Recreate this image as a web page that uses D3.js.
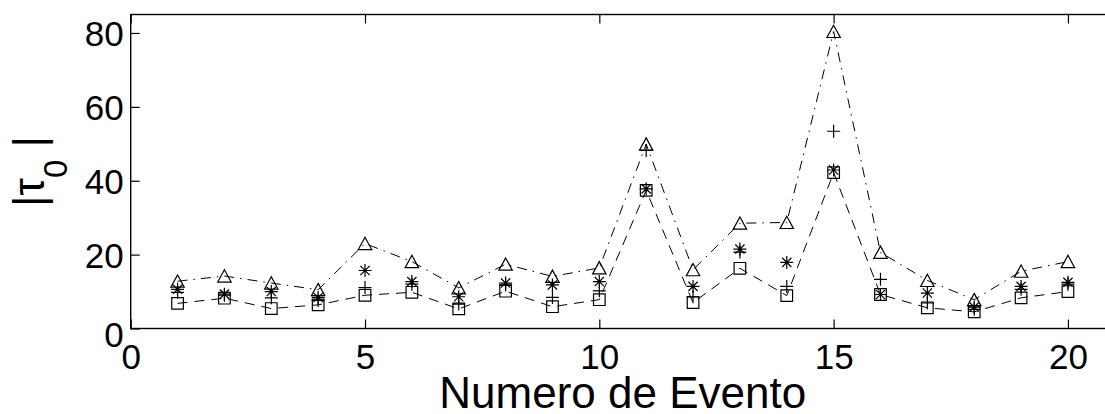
<!DOCTYPE html>
<html>
<head>
<meta charset="utf-8">
<script src="https://cdn.jsdelivr.net/npm/d3@7"></script>
<style>
  html, body { margin: 0; padding: 0; background: #fff; }
  svg { display: block; font-family: "Liberation Sans", Arial, Helvetica, sans-serif; }
</style>
</head>
<body>
<svg id="chart" width="1105" height="414"></svg>
<script>
// Event numbers
const eventos = d3.range(1, 21);

// |tau_0| estimates for each event, one array per method
const triangulos = [12.8, 14.2, 12.3, 10.5, 23.0, 18.1, 11.0, 17.4, 14.1, 16.4,
                    49.9, 15.9, 28.5, 28.7, 80.4, 20.6, 13.0, 7.8, 15.5, 18.1];
const cruces     = [9.8, 9.0, 8.3, 7.6, 11.1, 12.0, 6.6, 11.8, 8.4, 10.2,
                    48.2, 8.6, 20.7, 11.4, 53.4, 13.3, 6.9, 5.2, 10.6, 12.0];
const asteriscos = [10.6, 9.3, 10.0, 8.4, 15.7, 12.7, 8.6, 12.3, 11.8, 12.7,
                    37.8, 11.4, 21.5, 17.9, 42.9, 9.2, 9.6, 5.8, 11.4, 12.5];
const cuadrados  = [6.8, 8.2, 5.4, 6.4, 9.0, 9.8, 5.3, 10.1, 5.9, 7.8,
                    37.4, 7.0, 16.3, 8.9, 42.2, 9.2, 5.6, 4.5, 8.3, 10.0];

// Axis ticks
const xTicks = [0, 5, 10, 15, 20];
const yTicks = [0, 20, 40, 60, 80];

const svg = d3.select("#chart");
const mIzq = 130.7, mDer = 1114.8, mSup = 14.5, mInf = 328.5;

const x = d3.scaleLinear().domain([0, 21]).range([mIzq, mDer]);
const y = d3.scaleLinear().domain([0, 85]).range([mInf, mSup]);

const tickLen = 9;

// Ticks (pointing inwards) on all four sides
svg.append("g").attr("transform", `translate(0,${mInf})`)
  .call(d3.axisBottom(x).tickValues(xTicks).tickSize(-tickLen).tickPadding(15.5))
  .call(g => g.select(".domain").remove())
  .call(g => g.selectAll("text").attr("font-size", 35).attr("fill", "#000")
                .attr("font-family", "Liberation Sans, Arial, sans-serif"));

svg.append("g").attr("transform", `translate(0,${mSup})`)
  .call(d3.axisTop(x).tickValues(xTicks).tickSize(-tickLen).tickFormat(""))
  .call(g => g.select(".domain").remove());

svg.append("g").attr("transform", `translate(${mIzq},0)`)
  .call(d3.axisLeft(y).tickValues(yTicks).tickSize(-tickLen).tickPadding(7))
  .call(g => g.select(".domain").remove())
  .call(g => g.selectAll("text").attr("font-size", 35).attr("fill", "#000")
                .attr("font-family", "Liberation Sans, Arial, sans-serif")
                .attr("dy", d => d === 0 ? "0.52em" : "0.37em"));

svg.append("g").attr("transform", `translate(${mDer},0)`)
  .call(d3.axisRight(y).tickValues(yTicks).tickSize(-tickLen).tickFormat(""))
  .call(g => g.select(".domain").remove());

svg.selectAll(".tick line").attr("stroke", "#000").attr("stroke-width", 1.2);

// Axes box
svg.append("rect")
  .attr("x", mIzq).attr("y", mSup)
  .attr("width", mDer - mIzq).attr("height", mInf - mSup)
  .attr("fill", "none").attr("stroke", "#000").attr("stroke-width", 1.4);

// Connecting lines
const linea = vals => d3.line().x((d, i) => x(eventos[i])).y(d => y(d))(vals);

svg.append("path").attr("d", linea(triangulos))
  .attr("fill", "none").attr("stroke", "#000").attr("stroke-width", 1)
  .attr("stroke-dasharray", "10,6,1.5,6");

svg.append("path").attr("d", linea(cuadrados))
  .attr("fill", "none").attr("stroke", "#000").attr("stroke-width", 1)
  .attr("stroke-dasharray", "10,7");

// Marker shapes
const marcas = {
  triangulo: "M0,-6.3L6.7,6L-6.7,6Z",
  cuadrado: "M-5.8,-5.8H5.8V5.8H-5.8Z",
  cruz: "M-6.5,0H6.5M0,-6.5V6.5",
  asterisco: "M-6.5,0H6.5M0,-6.5V6.5M-4.6,-4.6L4.6,4.6M-4.6,4.6L4.6,-4.6"
};

function dibujar(vals, forma) {
  svg.append("g").selectAll("path").data(vals).join("path")
    .attr("transform", (d, i) => `translate(${x(eventos[i])},${y(d)})`)
    .attr("d", marcas[forma])
    .attr("fill", "none").attr("stroke", "#000").attr("stroke-width", 1.2);
}
dibujar(cuadrados, "cuadrado");
dibujar(asteriscos, "asterisco");
dibujar(cruces, "cruz");
dibujar(triangulos, "triangulo");

// Axis titles
svg.append("text")
  .attr("x", (mIzq + mDer) / 2).attr("y", 408)
  .attr("text-anchor", "middle").attr("font-size", 44).attr("fill", "#000")
  .text("Numero de Evento");

const yl = svg.append("text")
  .attr("transform", `translate(44,${(mSup + mInf) / 2}) rotate(-90)`)
  .attr("text-anchor", "middle").attr("font-size", 44).attr("fill", "#000");
yl.append("tspan").text("|τ");
yl.append("tspan").attr("font-size", 33).attr("dy", 23).text("0");
yl.append("tspan").attr("dy", -23).text(" |");
</script>
</body>
</html>
